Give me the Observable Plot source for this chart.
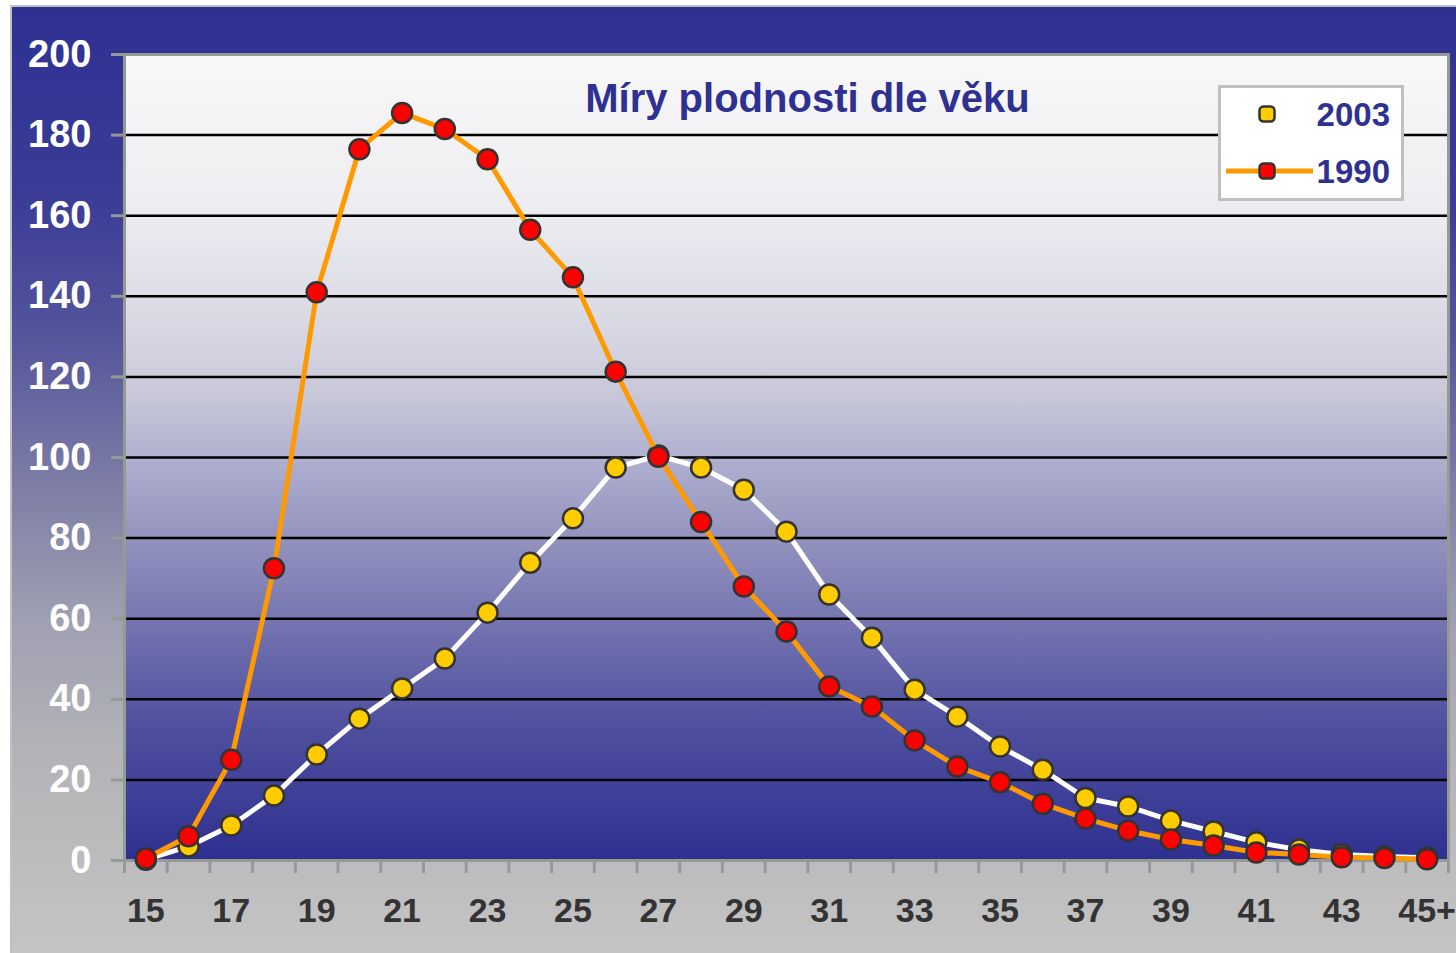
<!DOCTYPE html>
<html>
<head>
<meta charset="utf-8">
<script src="https://cdn.jsdelivr.net/npm/d3@7"></script>
<script src="https://cdn.jsdelivr.net/npm/@observablehq/plot@0.6"></script>
<style>
html, body { margin: 0; padding: 0; background: #ffffff; }
#wrap { position: relative; width: 1456px; height: 953px; overflow: hidden; }
#frame {
  position: absolute; left: 10px; top: 5px; right: 0; bottom: 0;
  border-left: 2px solid #c0c0c0; border-top: 2px solid #c0c0c0;
  background: linear-gradient(to bottom, #2e3192 0%, #3a3c96 20%, #55559c 35%, #7c7ca6 50%, #a0a0b2 65%, #b4b4b8 80%, #c4c4c4 100%);
}
#chart { position: absolute; left: 0; top: 0; }
#legend { position: absolute; left: 1218px; top: 85px; }
</style>
</head>
<body>
<div id="wrap">
  <div id="frame"></div>
  <div id="chart"></div>
  <svg id="legend" width="186" height="116"></svg>
</div>
<script>
// ---- data ----
const ages = ["15","16","17","18","19","20","21","22","23","24","25","26","27","28","29","30",
              "31","32","33","34","35","36","37","38","39","40","41","42","43","44","45+"];
const rate1990 = [0.5, 6, 25, 72.5, 141, 176.5, 185.5, 181.5, 174, 156.5, 144.7, 121.3, 100.2, 84, 68, 56.8,
                  43.2, 38.2, 29.8, 23.3, 19.4, 14.1, 10.4, 7.4, 5.2, 3.7, 2.0, 1.5, 0.8, 0.6, 0.3];
const rate2003 = [0.2, 3.5, 8.7, 16.1, 26.3, 35.2, 42.7, 50.1, 61.5, 73.9, 84.9, 97.5, 100.5, 97.5, 92, 81.6,
                  66, 55.3, 42.4, 35.7, 28.3, 22.5, 15.5, 13.4, 9.9, 7.2, 4.5, 2.7, 1.5, 1.0, 0.7];
const yTicks = [0, 20, 40, 60, 80, 100, 120, 140, 160, 180, 200];
const gridValues = [20, 40, 60, 80, 100, 120, 140, 160, 180];
const xLabels = ["15","17","19","21","23","25","27","29","31","33","35","37","39","41","43","45+"];
const seriesNames = ["2003", "1990"];
const title = "Míry plodnosti dle věku";

// ---- tables built from arrays ----
const d1990 = ages.map((a, i) => ({i, age: a, v: rate1990[i]}));
const d2003 = ages.map((a, i) => ({i, age: a, v: rate2003[i]}));
const boundaries = d3.range(ages.length + 1).map(k => k - 0.5);
const labelIdx = xLabels.map(l => ages.indexOf(l));

const axisGray = "#959a95";
const navy = "#2e3192";
const font = "Liberation Sans, Arial, sans-serif";

const defs = () => {
  const g = d3.create("svg:defs");
  const lg = g.append("linearGradient").attr("id", "plotbg").attr("x1", 0).attr("y1", 0).attr("x2", 0).attr("y2", 1);
  [[0, "#f8f8f8"], [0.18, "#eeeef2"], [0.34, "#d8d8e4"], [0.43, "#c6c6d8"], [0.5, "#b0b0d0"],
   [0.59, "#9696c0"], [0.68, "#7c7cb4"], [0.83, "#5050a0"], [1, "#2e3090"]]
    .forEach(([o, c]) => lg.append("stop").attr("offset", o).attr("stop-color", c));
  return g.node();
};

const chart = Plot.plot({
  width: 1456,
  height: 953,
  marginLeft: 124,
  marginRight: 8,
  marginTop: 54,
  marginBottom: 93,
  style: {background: "transparent", overflow: "visible", fontFamily: font},
  x: {type: "linear", domain: [-0.5, ages.length - 0.5], axis: null, label: null},
  y: {domain: [0, 200], axis: null, label: null},
  marks: [
    defs,
    Plot.frame({fill: "url(#plotbg)", stroke: "none"}),
    Plot.ruleY(gridValues, {stroke: "#000", strokeWidth: 2.5}),
    Plot.frame({stroke: axisGray, strokeWidth: 3, fill: "none"}),
    Plot.axisY(yTicks, {
      label: null, tickSize: 13, tickPadding: 20, stroke: axisGray, strokeWidth: 3,
      fill: "#ffffff", fontSize: 38, fontWeight: "bold", fontFamily: font,
      tickFormat: d => String(d)
    }),
    Plot.axisX(boundaries, {
      label: null, tickSize: 13, stroke: axisGray, strokeWidth: 3, tickFormat: () => ""
    }),
    Plot.axisX(labelIdx, {
      label: null, tickSize: 0, tickPadding: 37, fill: "#333333", fontSize: 34, fontWeight: "bold",
      fontFamily: font, tickFormat: i => ages[i]
    }),
    Plot.line(d2003, {x: "i", y: "v", stroke: "#ffffff", strokeWidth: 5}),
    Plot.dot(d2003, {x: "i", y: "v", r: 10, fill: "#ffcc00", stroke: "#333333", strokeWidth: 2.5}),
    Plot.line(d1990, {x: "i", y: "v", stroke: "#ff9900", strokeWidth: 5}),
    Plot.dot(d1990, {x: "i", y: "v", r: 10, fill: "#ff0000", stroke: "#333333", strokeWidth: 2.5}),
    Plot.text([title], {
      frameAnchor: "top", lineAnchor: "bottom", dx: 21, dy: 57,
      fill: navy, fontSize: 40, fontWeight: "bold", fontFamily: font, text: d => d
    })
  ]
});
document.getElementById("chart").appendChild(chart);

// ---- legend ----
const leg = d3.select("#legend");
leg.append("rect").attr("x", 1.5).attr("y", 1.5).attr("width", 183).attr("height", 113)
  .attr("fill", "#ffffff").attr("stroke", "#c0c0c0").attr("stroke-width", 3);
const legendItems = [
  {name: seriesNames[0], line: "#ffffff", fill: "#ffcc00", y: 29},
  {name: seriesNames[1], line: "#ff9900", fill: "#ff0000", y: 86}
];
legendItems.forEach(it => {
  leg.append("line").attr("x1", 8).attr("x2", 95).attr("y1", it.y).attr("y2", it.y)
    .attr("stroke", it.line).attr("stroke-width", 5);
  leg.append("rect").attr("x", 49 - 7.5).attr("y", it.y - 7.5).attr("width", 15).attr("height", 15)
    .attr("rx", 4).attr("fill", it.fill).attr("stroke", "#333333").attr("stroke-width", 2.5);
  leg.append("text").attr("x", 172).attr("y", it.y + 12).attr("text-anchor", "end")
    .attr("fill", navy).attr("font-family", font).attr("font-weight", "bold").attr("font-size", 33)
    .text(it.name);
});
</script>
</body>
</html>
